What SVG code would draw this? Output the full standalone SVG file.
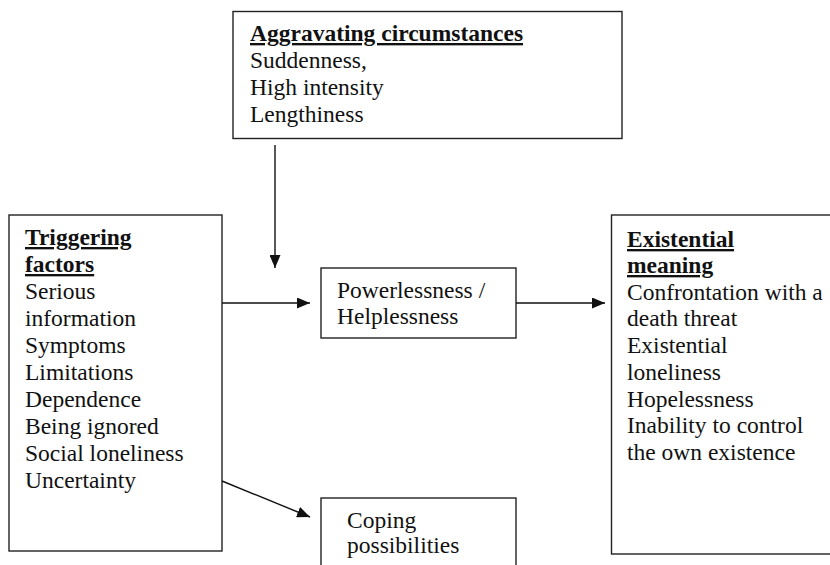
<svg xmlns="http://www.w3.org/2000/svg" width="830" height="565" viewBox="0 0 830 565">
<defs>
<style>
.box{fill:#fff;stroke:#222;stroke-width:1.4}
.t{font-family:"Liberation Serif","Times New Roman",serif;font-size:23.5px;fill:#111}
.h{font-weight:bold;text-decoration:underline}
.c{stroke:#111;stroke-width:1.4;fill:none}
</style>
<marker id="ah" viewBox="0 0 13 11" refX="13" refY="5.5" markerWidth="13" markerHeight="11" markerUnits="userSpaceOnUse" orient="auto">
<path d="M0,0 L13,5.5 L0,11 Z" fill="#111"/>
</marker>
</defs>
<rect width="830" height="565" fill="#fff"/>
<g id="aggravating">
<rect class="box" x="233" y="11.5" width="389" height="127"/>
<text class="t h" x="250" y="41">Aggravating circumstances</text>
<text class="t" x="250" y="68">Suddenness,</text>
<text class="t" x="250" y="95">High intensity</text>
<text class="t" x="250" y="122">Lengthiness</text>
</g>
<g id="triggering">
<rect class="box" x="9" y="215" width="213" height="336"/>
<text class="t h" x="25" y="245">Triggering</text>
<text class="t h" x="25" y="272">factors</text>
<text class="t" x="25" y="299">Serious</text>
<text class="t" x="25" y="326">information</text>
<text class="t" x="25" y="353">Symptoms</text>
<text class="t" x="25" y="380">Limitations</text>
<text class="t" x="25" y="407">Dependence</text>
<text class="t" x="25" y="434">Being ignored</text>
<text class="t" x="25" y="461">Social loneliness</text>
<text class="t" x="25" y="488">Uncertainty</text>
</g>
<g id="powerlessness">
<rect class="box" x="321" y="268" width="195" height="70"/>
<text class="t" x="337" y="298">Powerlessness /</text>
<text class="t" x="337" y="324">Helplessness</text>
</g>
<g id="existential">
<rect class="box" x="611.5" y="215" width="230" height="339"/>
<text class="t h" x="627" y="247">Existential</text>
<text class="t h" x="627" y="273">meaning</text>
<text class="t" x="627" y="300">Confrontation with a</text>
<text class="t" x="627" y="326">death threat</text>
<text class="t" x="627" y="353">Existential</text>
<text class="t" x="627" y="380">loneliness</text>
<text class="t" x="627" y="407">Hopelessness</text>
<text class="t" x="627" y="433">Inability to control</text>
<text class="t" x="627" y="460">the own existence</text>
</g>
<g id="coping">
<rect class="box" x="321" y="498" width="195" height="80"/>
<text class="t" x="347" y="528">Coping</text>
<text class="t" x="347" y="553">possibilities</text>
</g>
<g id="connectors">
<line class="c" x1="275" y1="145" x2="275" y2="268" marker-end="url(#ah)"/>
<line class="c" x1="222" y1="303" x2="310" y2="303" marker-end="url(#ah)"/>
<line class="c" x1="516" y1="303" x2="605" y2="303" marker-end="url(#ah)"/>
<line class="c" x1="222" y1="481" x2="310" y2="517" marker-end="url(#ah)"/>
</g>
</svg>
